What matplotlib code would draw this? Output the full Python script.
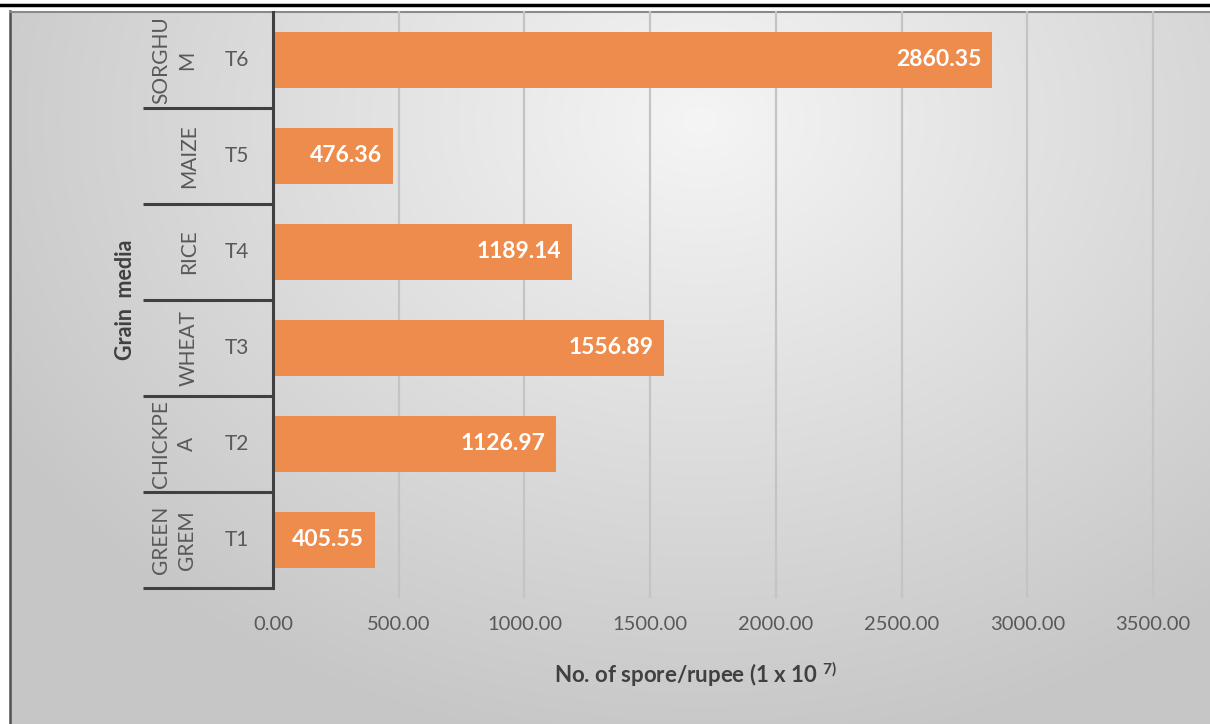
import numpy as np
import matplotlib.pyplot as plt

plt.rcParams['font.family'] = ['Lato', 'DejaVu Sans']
plt.rcParams['mathtext.fontset'] = 'custom'
plt.rcParams['mathtext.rm'] = 'Lato'
plt.rcParams['mathtext.bf'] = 'Lato:bold'

treatments = ["T1", "T2", "T3", "T4", "T5", "T6"]
grains = ["GREEN\nGREM", "CHICKPE\nA", "WHEAT", "RICE", "MAIZE", "SORGHU\nM"]
spores = [405.55, 1126.97, 1556.89, 1189.14, 476.36, 2860.35]
xticks = [0, 500, 1000, 1500, 2000, 2500, 3000, 3500]

W, H = 1210, 724
bar_color = "#ED8C4C"
text_gray = "#595959"
dark = "#404040"


def px(x, y):
    # pixel position (from top-left) to figure fraction
    return x / W, 1 - y / H


fig = plt.figure(figsize=(W / 100, H / 100), dpi=100)

# gradient background of the chart frame
bg = fig.add_axes([0, 0, 1, 1], zorder=-10)
yy, xx = np.mgrid[0:H, 0:W]
r = np.sqrt(((xx - 700) / 950.0) ** 2 + ((yy - 120) / 750.0) ** 2)
shade = np.clip(245 - 55 * r, 198, 246) / 255.0
img = np.dstack([shade, shade, shade])
img[:11, :] = 1.0
img[:, :10] = 1.0
bg.imshow(img, aspect="auto", extent=[0, W, H, 0], interpolation="bilinear")
bg.plot([0, W], [5, 5], color="black", lw=2.5)
bg.plot([10, 10], [11, H], color="#505050", lw=1.8)
bg.plot([10, W], [11.5, 11.5], color="#8a8a8a", lw=1.5)
bg.set_xlim(0, W)
bg.set_ylim(H, 0)
bg.axis("off")

x0, x1, y0, y1 = 273, 1153, 12, 588
l, b = px(x0, y1)
ax = fig.add_axes([l, b, (x1 - x0) / W, (y1 - y0) / H])
ax.patch.set_visible(False)

ypos = np.arange(len(treatments))
bars = ax.barh(ypos, spores, height=0.58, color=bar_color, zorder=3)
for rect, v in zip(bars, spores):
    ax.annotate(f"{v:.2f}", xy=(v, rect.get_y() + rect.get_height() / 2),
                xytext=(-8, 0), textcoords="offset points",
                ha="right", va="center", color="white",
                fontsize=16.5, fontweight="bold", zorder=4)

ax.set_xlim(0, 3500)
ax.set_ylim(-0.5, len(treatments) - 0.5)
ax.set_xticks(xticks)
ax.set_xticklabels([f"{t:.2f}" for t in xticks], fontsize=14.5, color=text_gray)
ax.tick_params(axis="x", length=0, pad=20)
ax.set_yticks([])
for t in xticks[1:]:
    ax.plot([t, t], [1, -0.016], transform=ax.get_xaxis_transform(),
            color="#c4c4c4", lw=1.6, clip_on=False, zorder=1)

for s in ["top", "right", "bottom"]:
    ax.spines[s].set_visible(False)
ax.spines["left"].set_color(dark)
ax.spines["left"].set_linewidth(2.2)
ax.spines["left"].set_zorder(5)

# two-level category axis
ytr = ax.get_yaxis_transform()
left_edge = (143 - x0) / (x1 - x0)
for k in range(len(treatments)):
    ax.plot([left_edge, 0], [k - 0.5, k - 0.5], transform=ytr,
            color=dark, lw=2.2, clip_on=False, solid_capstyle="butt")
for k, (t, g) in enumerate(zip(treatments, grains)):
    ax.text((237 - x0) / (x1 - x0), k, t, transform=ytr, ha="center",
            va="center", fontsize=15, color=text_gray)
    gx = 174 if "\n" in g else 189
    ax.text((gx - x0) / (x1 - x0), k, g, transform=ytr, ha="center",
            va="center", rotation=90, fontsize=15, color=text_gray,
            linespacing=1.35, multialignment="center")

fig.text(*px(125, 300), "Grain  media", rotation=90, ha="center", va="center",
         fontsize=15.5, fontweight="bold", color=dark)
fig.text(*px(695, 674), r"No. of spore/rupee (1 x 10 $^{\mathbf{7)}}$",
         ha="center", va="center", fontsize=16, fontweight="bold", color=dark)

fig.savefig("out.png", dpi=100)
